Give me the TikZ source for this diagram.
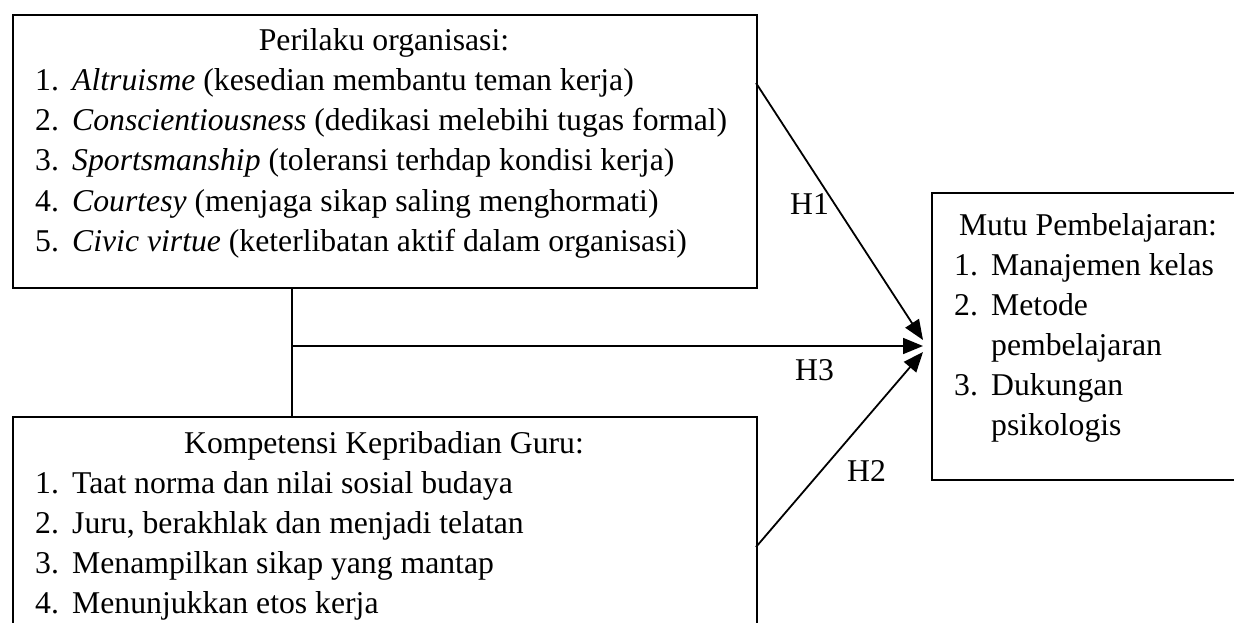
\documentclass[tikz,border=0pt]{standalone}
\usepackage{fontspec}
\setmainfont{Liberation Serif}
\usetikzlibrary{arrows.meta}
\begin{document}
\begin{tikzpicture}[x=1pt,y=-1pt,
  box/.style={draw,line width=1.9pt,inner sep=0pt,anchor=north west},
  txt/.style={inner sep=0pt,anchor=base west,font=\fontsize{31.7}{40}\selectfont},
  ttl/.style={inner sep=0pt,anchor=base,font=\fontsize{31.7}{40}\selectfont},
  conn/.style={line width=1.8pt},
  arr/.style={conn,-{Triangle[length=20pt,width=16pt]}}]
\useasboundingbox[clip] (0,0) rectangle (1234,623);
\fill[white] (0,0) rectangle (1234,623);
% boxes
\node[box,minimum width=744pt,minimum height=273pt] (org) at (12,14) {};
\node[box,minimum width=744pt,minimum height=300pt] (kep) at (12,416) {};
\node[box,minimum width=320pt,minimum height=287pt] (mutu) at (931,192) {};
% top box text
\node[ttl] (t1) at (384,51) {Perilaku organisasi:};
\node[txt] (n11) at (35,91) {1.};
\node[txt] (l11) at (72,91) {\textit{Altruisme} (kesedian membantu teman kerja)};
\node[txt] (n12) at (35,131) {2.};
\node[txt] (l12) at (72,131) {\textit{Conscientiousness} (dedikasi melebihi tugas formal)};
\node[txt] (n13) at (35,171) {3.};
\node[txt] (l13) at (72,171) {\textit{Sportsmanship} (toleransi terhdap kondisi kerja)};
\node[txt] (n14) at (35,211) {4.};
\node[txt] (l14) at (72,211) {\textit{Courtesy} (menjaga sikap saling menghormati)};
\node[txt] (n15) at (35,251) {5.};
\node[txt] (l15) at (72,251) {\textit{Civic virtue} (keterlibatan aktif dalam organisasi)};
% bottom box text
\node[ttl] (t2) at (384,453) {Kompetensi Kepribadian Guru:};
\node[txt] (n21) at (35,493) {1.};
\node[txt] (l21) at (72,493) {Taat norma dan nilai sosial budaya};
\node[txt] (n22) at (35,533) {2.};
\node[txt] (l22) at (72,533) {Juru, berakhlak dan menjadi telatan};
\node[txt] (n23) at (35,573) {3.};
\node[txt] (l23) at (72,573) {Menampilkan sikap yang mantap};
\node[txt] (n24) at (35,613) {4.};
\node[txt] (l24) at (72,613) {Menunjukkan etos kerja};
% right box text
\node[ttl] (t3) at (1088,235) {Mutu Pembelajaran:};
\node[txt] (n31) at (954,275) {1.};
\node[txt] (l31) at (991,275) {Manajemen kelas};
\node[txt] (n32) at (954,315) {2.};
\node[txt] (l32) at (991,315) {Metode};
\node[txt] (l32b) at (991,355) {pembelajaran};
\node[txt] (n33) at (954,395) {3.};
\node[txt] (l33) at (991,395) {Dukungan};
\node[txt] (l33b) at (991,435) {psikologis};
% connector points
\coordinate (h1s) at (756,83);
\coordinate (h2s) at (756,547);
\coordinate (h3s) at (292,346);
\coordinate (tip1) at (923,340);
\coordinate (tip2) at (923,352);
\coordinate (tip3) at (923,346);
% connectors
\draw[conn] (h3s |- org.south) -- (h3s |- kep.north);
\draw[arr] (h1s) -- (tip1);
\draw[arr] (h3s) -- (tip3);
\draw[arr] (h2s) -- (tip2);
% labels
\node[txt] (H1) at (790,214) {H1};
\node[txt] (H3) at (795,380) {H3};
\node[txt] (H2) at (847,481) {H2};
\end{tikzpicture}
\end{document}
